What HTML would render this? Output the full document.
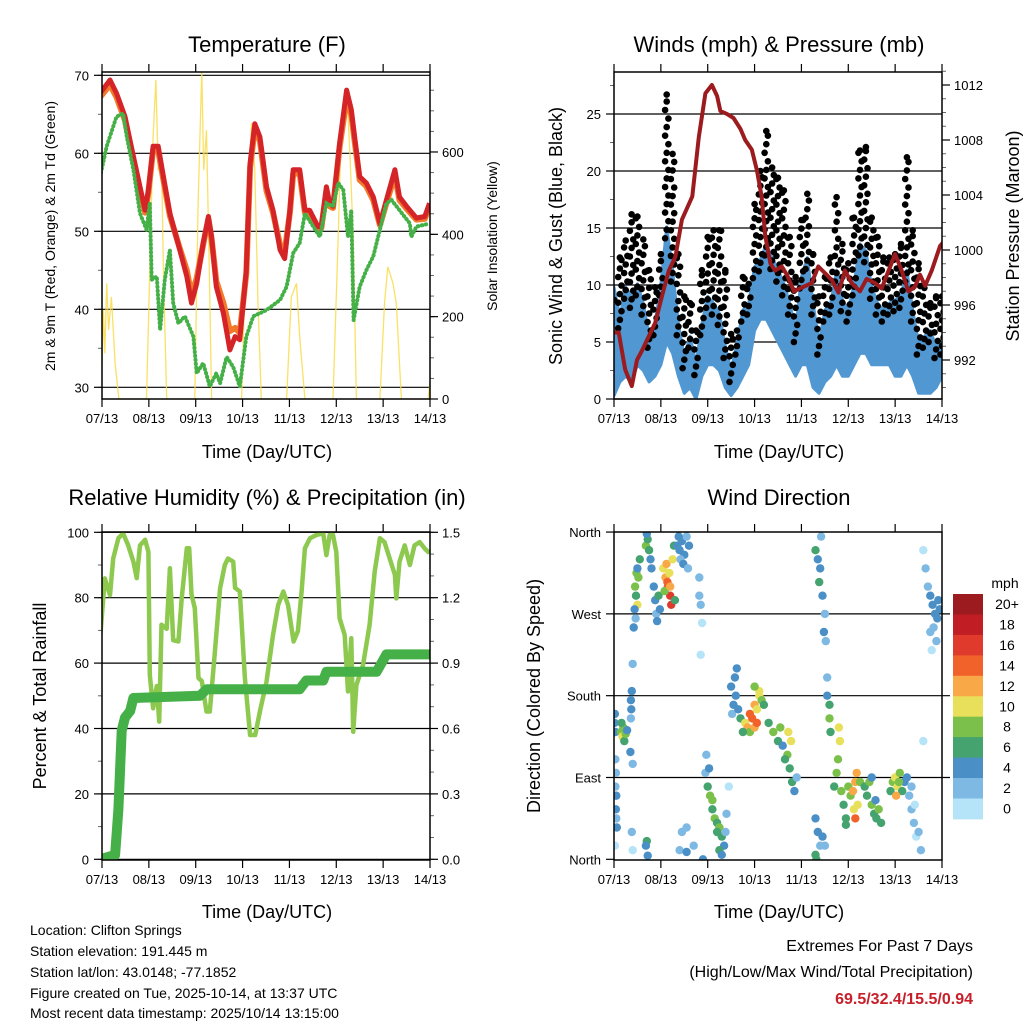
<!DOCTYPE html>
<html><head><meta charset="utf-8">
<style>
html,body{margin:0;padding:0;background:#fff;}
svg{display:block;font-family:"Liberation Sans",Arial,sans-serif;}
</style></head>
<body>
<svg id="s" width="1024" height="1024" viewBox="0 0 1024 1024" xmlns="http://www.w3.org/2000/svg">
<defs>
<clipPath id="c1"><rect x="102" y="72" width="328" height="327"/></clipPath>
<clipPath id="c2"><rect x="614" y="72" width="328" height="327"/></clipPath>
<clipPath id="c3"><rect x="102" y="532" width="328" height="328"/></clipPath>
<clipPath id="c4"><rect x="614" y="532" width="328" height="328"/></clipPath>
</defs>
<text x="267" y="52" font-size="22" text-anchor="middle">Temperature (F)</text>
<text x="779" y="52" font-size="22" text-anchor="middle">Winds (mph) &amp; Pressure (mb)</text>
<text x="267" y="505" font-size="22" text-anchor="middle">Relative Humidity (%) &amp; Precipitation (in)</text>
<text x="779" y="505" font-size="22" text-anchor="middle">Wind Direction</text>
<text x="267" y="458" font-size="18" text-anchor="middle">Time (Day/UTC)</text>
<text x="779" y="458" font-size="18" text-anchor="middle">Time (Day/UTC)</text>
<text x="267" y="918" font-size="18" text-anchor="middle">Time (Day/UTC)</text>
<text x="779" y="918" font-size="18" text-anchor="middle">Time (Day/UTC)</text>
<text transform="translate(55,236) rotate(-90)" font-size="14" text-anchor="middle">2m &amp; 9m T (Red, Orange) &amp; 2m Td (Green)</text>
<text transform="translate(497,236) rotate(-90)" font-size="14" text-anchor="middle">Solar Insolation (Yellow)</text>
<text transform="translate(562,236) rotate(-90)" font-size="18" text-anchor="middle">Sonic Wind &amp; Gust (Blue, Black)</text>
<text transform="translate(1019,236) rotate(-90)" font-size="18" text-anchor="middle">Station Pressure (Maroon)</text>
<text transform="translate(46,696) rotate(-90)" font-size="18" text-anchor="middle">Percent &amp; Total Rainfall</text>
<text transform="translate(540,696) rotate(-90)" font-size="18" text-anchor="middle">Direction (Colored By Speed)</text>
<g font-size="14">
<text x="30" y="935">Location: Clifton Springs</text>
<text x="30" y="956">Station elevation: 191.445 m</text>
<text x="30" y="977">Station lat/lon: 43.0148; -77.1852</text>
<text x="30" y="998">Figure created on Tue, 2025-10-14, at 13:37 UTC</text>
<text x="30" y="1018">Most recent data timestamp: 2025/10/14 13:15:00</text>
</g>
<g font-size="16" text-anchor="end">
<text x="973" y="951">Extremes For Past 7 Days</text>
<text x="973" y="977">(High/Low/Max Wind/Total Precipitation)</text>
<text x="973" y="1004" font-weight="bold" fill="#c8202a">69.5/32.4/15.5/0.94</text>
</g>
</svg>
<script>
// ---- data ----
const dayLabels=["07/13","08/13","09/13","10/13","11/13","12/13","13/13","14/13"];
const tempDays=[-0.04,0.17,0.31,0.49,0.67,0.81,0.92,0.99,1.09,1.2,1.31,1.45,1.66,1.81,1.91,2.02,2.16,2.27,2.34,2.44,2.59,2.73,2.84,2.94,3.08,3.16,3.26,3.37,3.51,3.65,3.8,3.9,4.01,4.08,4.22,4.33,4.43,4.61,4.68,4.79,4.86,4.93,5.07,5.22,5.32,5.39,5.5,5.64,5.79,5.93,6.07,6.25,6.35,6.5,6.71,6.89,6.99];
const tempRed=[67.7,69.4,67.7,64.7,59.6,55.7,52.7,55.3,60.9,60.9,57,52.3,47.6,44.2,40.8,43.3,48.5,51.9,49.3,42.9,39.5,34.8,36.5,36.1,45,58.7,63.8,62.1,55.7,52.7,47.6,46.5,52.7,57.9,57.9,52.7,52.7,50.6,50.6,55.7,53.6,53.2,61.3,68.1,65.6,62.1,57,56.2,54.4,51,54,57.9,54.4,53.2,51.7,51.9,53.6];
const tempOrange=[67.2,68.8,67.2,64.2,59.1,55.2,52.4,55.0,60.4,60.4,56.6,52.0,47.8,45.0,41.8,44.0,48.3,51.6,49.0,43.6,40.8,37.2,37.6,37.0,44.6,58.2,63.2,61.6,55.2,52.4,48.2,47.4,52.4,57.4,57.4,52.4,52.2,50.2,50.4,55.2,53.2,53.0,60.8,67.0,65.0,61.6,56.6,55.8,54.0,50.8,53.6,57.2,54.0,52.9,51.5,51.6,53.2];
const tdDays=[-0.04,0.1,0.31,0.45,0.53,0.67,0.81,0.95,1.02,1.06,1.17,1.24,1.34,1.45,1.52,1.63,1.77,1.95,2.02,2.16,2.3,2.44,2.52,2.66,2.8,2.94,3.08,3.23,3.51,3.8,3.94,4.08,4.22,4.33,4.51,4.65,4.79,4.93,5.04,5.15,5.25,5.32,5.37,5.5,5.64,5.79,5.93,6.07,6.18,6.35,6.57,6.6,6.71,6.99];
const tdVals=[57,60.9,64.7,65.1,62.1,57.9,52.3,50.2,53.6,43.8,44.2,37.4,43.8,47.6,40.8,38.2,39.1,36.5,31.8,33.1,30.1,31.8,30.5,33.9,32.6,30.1,36.5,39.1,39.9,41.2,42.9,47.2,48.5,52.3,50.6,49.3,53.6,53.2,56.2,55.3,49.3,52.7,38.6,42.9,45,46.8,50.2,53.6,54,52.7,51,49.3,50.6,51];
const solarDays=[0.0,0.03,0.06,0.1,0.14,0.2,0.28,0.36,0.95,1.02,1.09,1.15,1.2,1.27,1.31,1.38,1.98,2.05,2.13,2.17,2.23,2.29,2.34,2.98,3.08,3.19,3.26,3.33,3.4,3.94,4.04,4.15,4.22,4.33,4.93,5.04,5.11,5.22,5.29,5.36,5.43,5.93,6.03,6.1,6.21,6.28,6.39,6.96,7.03];
const solarVals=[80,216,111,281,168,248,87,0,0,313,637,775,556,596,313,0,0,476,799,556,653,313,0,0,394,670,556,232,0,0,248,281,151,0,0,394,678,750,597,394,0,0,232,321,281,232,0,0,70];
const windHi=[9.8,7.2,9.8,9,10.1,8.4,5.5,6.6,10.1,15.1,11.3,6.6,3.7,5.5,3.1,6.6,9,8.4,7.5,4.6,2.5,4.9,7.8,8.4,11.6,12.2,13.6,12.4,11.3,10.1,8.4,6,10.7,12.4,8.4,4.9,7.8,8.4,11.3,8.7,7.8,10.1,13.6,13,9.8,8.4,7.8,8.4,8.7,9,11.3,7.8,4.9,5.5,6,4.6,4.9];
const windLo=[0.3,1.5,2,1.5,3,2.5,1.5,2,3,5,4,2,0.5,1,0,2,3,3,2.5,1,0.3,1,2,3,6,7,7,6,5,4,3,2,3,3,1,0.5,1.5,2,3,2,2,3,4,4,3,3,3,3,2,2,3,2,0.5,0.5,0.5,1,2];
const gustHi=[8.7,12.4,13.9,16.2,16,14,11.3,9.8,12.7,26.7,21.5,12.7,9,8.4,6,11.3,14.2,14.8,14.8,11.3,5.7,6,10.7,10.1,17.1,20,23.5,20.3,19.4,18.3,14.2,10.7,15.7,18,12.7,9,10.7,12.4,17.7,13.6,11.9,15.9,21.8,22.1,15.9,14.2,12.4,12.4,12.7,13.6,21.2,14.8,11.9,10.1,8.4,9,9];
const presDays=[-0.04,0.1,0.24,0.38,0.49,0.6,0.88,1.02,1.17,1.31,1.45,1.67,1.81,1.95,2.09,2.2,2.27,2.41,2.55,2.7,2.8,2.94,3.05,3.15,3.23,3.34,3.44,3.58,3.69,3.84,4.22,4.36,4.51,4.65,4.79,4.93,5.07,5.25,5.39,5.57,5.71,5.86,6.0,6.14,6.28,6.42,6.53,6.64,6.78,6.96,7.06];
const presVals=[994,994,991.3,990.1,992,992.7,994.7,996.6,998.5,999.5,1002.2,1003.9,1008.2,1011.4,1012,1011.2,1010.1,1009.9,1009.6,1008.8,1008,1007.3,1005.8,1003.9,1001,999,998.5,998.8,998.2,997,997.6,998.8,998.3,997.8,996.9,998.5,997.6,997,997.9,997.6,997.2,998.5,999.7,998.5,997,997.3,998.2,997.4,998.5,1000.3,1000.7];
const rhDays=[-0.04,0.06,0.17,0.24,0.35,0.45,0.56,0.67,0.74,0.81,0.92,0.99,1.02,1.09,1.17,1.22,1.27,1.38,1.45,1.52,1.63,1.7,1.81,1.86,1.91,1.98,2.06,2.13,2.23,2.3,2.41,2.52,2.62,2.69,2.8,2.84,2.94,3.05,3.16,3.27,3.37,3.51,3.65,3.76,3.87,3.97,4.09,4.18,4.26,4.33,4.44,4.58,4.72,4.79,4.86,4.93,5.0,5.07,5.18,5.25,5.32,5.36,5.43,5.57,5.71,5.82,5.93,6.03,6.14,6.25,6.28,6.35,6.46,6.57,6.67,6.78,6.89,6.99];
const rhVals=[67.6,85.9,80.8,92,98.2,99.7,96,91,86,96,97.7,94,56.4,46.2,53,42.1,71.7,70.5,89,67,66.6,79.8,95.1,95.1,81,76.8,55.4,54.5,45.2,45.2,63.5,82.9,90,92,91,83,81.9,55.4,38,38,45.2,54.3,68.6,77.8,81.9,77.8,66.6,69.8,81.9,95.1,98.2,99.2,99.7,93,99.2,99.2,94,73.7,68.6,51.3,67.6,39,53.3,59.4,71.7,88,98.2,97,92,87,79.8,91,96,90,96,97,95,93.6];
const precipDays=[-0.04,0.28,0.35,0.42,0.49,0.6,0.67,2.09,2.23,4.22,4.36,4.72,4.79,5.86,6.07,7.06];
const precipVals=[0,0.02,0.23,0.59,0.65,0.68,0.74,0.75,0.78,0.78,0.82,0.82,0.86,0.86,0.94,0.94];
const dirDays=[0.02,0.01,0.03,0.03,0.04,0.03,0.05,0.04,0.05,0.06,0.02,0.15,0.18,0.2,0.22,0.25,0.28,0.16,0.36,0.38,0.37,0.36,0.4,0.4,0.35,0.45,0.47,0.48,0.5,0.44,0.46,0.52,0.55,0.5,0.42,0.68,0.72,0.75,0.78,0.7,0.8,0.85,0.88,0.9,0.95,0.98,0.92,1.05,1.1,1.15,1.2,1.22,1.12,1.18,1.25,1.08,1.28,1.3,1.14,1.2,1.35,1.4,1.45,1.5,1.55,1.42,1.6,1.48,1.38,1.58,1.82,1.85,1.88,1.85,1.82,1.95,2.0,2.05,2.1,2.15,2.2,2.25,2.3,2.1,2.2,2.35,2.4,2.45,2.38,2.03,1.97,2.25,2.3,1.4,1.45,1.55,1.55,0.7,0.68,0.72,1.7,0.4,0.38,1.9,2.5,2.55,2.6,2.58,2.52,2.65,2.62,2.7,2.8,2.85,2.9,2.95,3.0,3.05,2.9,3.0,3.1,3.15,3.1,3.2,2.75,3.0,3.05,3.3,3.4,3.5,3.55,3.6,3.7,3.75,3.8,3.72,3.78,3.65,3.85,3.9,4.3,4.35,4.4,4.38,4.45,4.5,4.48,4.52,4.55,4.55,4.6,4.6,4.42,4.35,4.4,4.3,4.32,4.45,4.5,4.3,4.62,4.8,4.82,4.78,4.75,4.7,4.85,4.9,4.95,5.0,5.05,5.1,5.15,5.18,5.12,5.15,5.2,5.25,4.95,5.35,5.4,5.45,5.5,5.55,5.6,5.65,5.7,5.5,5.58,5.9,5.95,6.0,6.05,6.1,6.15,6.2,6.25,6.02,6.08,6.3,6.35,6.4,6.45,6.35,6.5,6.55,6.42,6.6,6.6,6.65,6.7,6.75,6.8,6.85,6.9,6.95,6.82,6.88,6.78,6.75,6.92];
const dirDegs=[160,150,140,110,95,80,70,55,45,35,15,140,135,145,130,138,142,150,175,185,165,155,215,105,118,300,290,315,280,275,265,310,330,320,255,345,352,340,330,358,320,300,285,270,290,275,262,320,310,300,290,280,325,315,330,295,345,285,305,300,345,340,350,335,355,330,345,325,355,320,310,280,260,225,290,95,80,70,55,45,40,35,25,65,30,15,50,80,30,100,115,10,5,10,30,35,8,20,15,4,15,10,30,0,190,170,180,200,160,165,210,155,150,145,160,155,170,165,140,145,180,175,185,170,140,190,150,150,140,130,145,125,115,100,85,140,130,110,75,90,340,330,320,305,290,270,250,240,200,180,170,155,355,30,15,5,0,25,15,45,140,145,130,110,95,80,75,60,45,80,70,75,85,95,55,45,60,85,38,80,70,85,60,50,45,55,40,90,65,75,85,90,80,95,75,85,90,70,85,70,55,40,25,80,30,10,60,130,340,320,300,290,280,270,265,275,255,240,230,250,285];
const dirSpeeds=[4,4,4,2,2,2,4,4,2,4,0,8,10,8,6,8,4,6,4,4,4,2,2,2,4,8,6,8,10,4,2,8,6,4,4,8,6,6,4,4,4,4,4,2,6,4,4,10,12,14,16,16,12,10,10,8,6,6,14,12,4,4,4,4,2,2,4,4,4,2,2,2,0,0,2,2,6,8,6,8,6,8,6,8,6,4,2,0,2,4,2,6,4,2,2,2,4,6,4,4,2,0,2,4,4,4,4,4,2,4,4,6,10,12,14,14,12,10,8,12,10,8,10,6,6,8,14,6,8,6,8,4,8,6,6,10,10,6,4,2,6,4,4,6,4,2,4,2,2,4,6,8,2,4,2,6,6,4,2,4,6,10,10,8,8,6,8,6,6,8,8,12,12,12,10,14,10,8,6,6,6,8,8,6,6,8,6,4,4,6,8,10,10,8,6,4,4,12,8,2,2,2,0,2,2,2,0,0,0,2,2,4,4,4,4,4,2,2,0,2,4];
const speedLabels=["0","2","4","6","8","10","12","14","16","18","20+"];
const speedColors=["#b5e3f7","#7eb9e4","#4a90c6","#44a36e","#7ac04a","#e8e05a","#f9a848","#f0622a","#e03a2c","#c01d25","#9b1b1f"];

// ---- helpers ----
const NS="http://www.w3.org/2000/svg";
const svg=document.getElementById('s');
function mk(tag,attrs,parent){const e=document.createElementNS(NS,tag);for(const k in attrs)e.setAttribute(k,attrs[k]);(parent||svg).appendChild(e);return e;}
function grp(name,clip){const g=mk('g',clip?{'clip-path':'url(#'+clip+')'}:{});


return g;}
function pathFrom(xs,ys,fx,fy){let d='';for(let i=0;i<xs.length;i++)d+=(i?'L':'M')+fx(xs[i]).toFixed(1)+','+fy(ys[i]).toFixed(1);return d;}

function frame(x0,y0,x1,y1,name){
  const g=grp(name);
  mk('rect',{x:x0,y:y0,width:x1-x0,height:y1-y0,fill:'none',stroke:'#000','stroke-width':1.5},g);
  return g;
}
function xAxis(x0,x1,y0,y1,name){
  const g=grp(name);
  const fx=d=>x0+d*(x1-x0)/7;
  for(let i=0;i<dayLabels.length;i++){
    mk('line',{x1:fx(i),x2:fx(i),y1:y1,y2:y1+8,stroke:'#000','stroke-width':1.2},g);
    mk('line',{x1:fx(i),x2:fx(i),y1:y0,y2:y0-8,stroke:'#000','stroke-width':1.2},g);
    const t=mk('text',{x:fx(i),y:y1+24,'font-size':13,'text-anchor':'middle'},g);
    t.textContent=dayLabels[i];
    
    
  }
  return fx;
}
function yTicks(xEdge,side,vals,labels,fy,minor,g,grid,gx0,gx1){
  const dir=side==='left'?-1:1;
  for(const m of minor){mk('line',{x1:xEdge,x2:xEdge+dir*4,y1:fy(m),y2:fy(m),stroke:'#666','stroke-width':1},g);}
  vals.forEach((v,i)=>{
    const y=fy(v);
    mk('line',{x1:xEdge,x2:xEdge+dir*8,y1:y,y2:y,stroke:'#000','stroke-width':1.2},g);
    if(grid) mk('line',{x1:gx0,x2:gx1,y1:y,y2:y,stroke:'#000','stroke-width':1.2},g);
    const t=mk('text',{x:xEdge+dir*(side==='left'?13:12),y:y+5,'font-size':13,'text-anchor':side==='left'?'end':'start'},g);
    t.textContent=labels[i];
    
    
  });
}
function range(a,b,s){const r=[];for(let v=a;v<=b+1e-9;v+=s)r.push(+v.toFixed(3));return r;}

// ===== Panel 1: temperature =====
(function(){
  const X0=102,X1=430,Y0=72,Y1=399;
  const fx=xAxis(X0,X1,Y0,Y1,'temp-x-axis');
  const fy=v=>387.3-(v-30)*7.8;
  const fs=v=>399-v*0.4117;
  const ga=grp('temp-y-axes');
  yTicks(X0,'left',[30,40,50,60,70],['30','40','50','60','70'],fy,range(30,70,5),ga,true,X0,X1);
  yTicks(X1,'right',[0,200,400,600],['0','200','400','600'],fs,range(0,750,50),ga,false);
  const gs=grp('solar-series','c1');
  const ps=mk('path',{d:pathFrom(solarDays,solarVals,fx,fs),fill:'none',stroke:'#f8dc4a','stroke-width':1.3,'stroke-opacity':0.85},gs);
  
  
  const gt=grp('temperature-series','c1');
  const po=mk('path',{d:pathFrom(tempDays,tempOrange,fx,fy),fill:'none',stroke:'#f2782a','stroke-width':6,'stroke-linejoin':'round'},gt);
  
  
  const pr=mk('path',{d:pathFrom(tempDays,tempRed,fx,fy),fill:'none',stroke:'#d42428','stroke-width':5,'stroke-linejoin':'round'},gt);
  
  
  const pg=mk('path',{d:pathFrom(tdDays,tdVals,fx,fy),fill:'none',stroke:'#46b048','stroke-width':4,'stroke-dasharray':'0.5 3.5','stroke-linecap':'round'},gt);
  
  
  frame(X0,Y0,X1,Y1,'temp-plot-frame');
})();

// ===== Panel 2: winds & pressure =====
(function(){
  const X0=614,X1=942,Y0=72,Y1=399;
  const fx=xAxis(X0,X1,Y0,Y1,'wind-x-axis');
  const fy=v=>399-v*11.4;
  const fp=p=>85+(1012-p)*13.75;
  const ga=grp('wind-y-axes');
  yTicks(X0,'left',[0,5,10,15,20,25],['0','5','10','15','20','25'],fy,range(0,27.5,2.5),ga,true,X0,X1);
  yTicks(X1,'right',[992,996,1000,1004,1008,1012],['992','996','1000','1004','1008','1012'],fp,range(990,1013,1),ga,false);
  const g=grp('wind-series','c2');
  let up='',dn='';
  for(let i=0;i<windHi.length;i++){const x=fx(i*0.125);up+=(i?'L':'M')+x.toFixed(1)+','+fy(windHi[i]).toFixed(1);}
  for(let i=windLo.length-1;i>=0;i--){const x=fx(i*0.125);dn+='L'+x.toFixed(1)+','+fy(windLo[i]).toFixed(1);}
  const band=mk('path',{d:up+dn+'Z',fill:'#5198d2',stroke:'#5198d2','stroke-width':3,'stroke-linejoin':'round'},g);
  
  
  const gd=grp('gust-dots','c2');
  const offs=[-0.035,0,0.035];
  for(let i=0;i<gustHi.length;i++){
    let k=0;
    for(let v=windHi[i]-1;v<=gustHi[i];v+=0.75){
      const c=mk('circle',{cx:fx(i*0.125+offs[k%3]).toFixed(1),cy:fy(v).toFixed(1),r:3.3,fill:'#000'},gd);
      
      
      k++;
    }
    const c=mk('circle',{cx:fx(i*0.125).toFixed(1),cy:fy(gustHi[i]).toFixed(1),r:3.3,fill:'#000'},gd);
    
    
  }
  const gp=grp('pressure-series','c2');
  const pp=mk('path',{d:pathFrom(presDays,presVals,fx,fp),fill:'none',stroke:'#9b1b1f','stroke-width':4,'stroke-linejoin':'round'},gp);
  
  
  frame(X0,Y0,X1,Y1,'wind-plot-frame');
})();

// ===== Panel 3: RH & precip =====
(function(){
  const X0=102,X1=430,Y0=532,Y1=860;
  const fx=xAxis(X0,X1,Y0,Y1,'rh-x-axis');
  const fy=v=>859.3-v*3.27;
  const fq=v=>859.3-v/0.015*3.27;
  const ga=grp('rh-y-axes');
  yTicks(X0,'left',[0,20,40,60,80,100],['0','20','40','60','80','100'],fy,range(0,100,10),ga,true,X0,X1);
  yTicks(X1,'right',[0,0.3,0.6,0.9,1.2,1.5],['0.0','0.3','0.6','0.9','1.2','1.5'],fq,range(0,1.5,0.1),ga,false);
  const g=grp('rh-series','c3');
  const pr=mk('path',{d:pathFrom(rhDays,rhVals,fx,fy),fill:'none',stroke:'#8dc94e','stroke-width':4.5,'stroke-linejoin':'round'},g);
  
  
  const pq=mk('path',{d:pathFrom(precipDays,precipVals,fx,fq),fill:'none',stroke:'#46b048','stroke-width':10,'stroke-linejoin':'round','stroke-linecap':'round'},g);
  
  
  frame(X0,Y0,X1,Y1,'rh-plot-frame');
})();

// ===== Panel 4: wind direction =====
(function(){
  const X0=614,X1=942,Y0=532,Y1=860;
  const fx=xAxis(X0,X1,Y0,Y1,'dir-x-axis');
  const fy=d=>859.3-d*0.909;
  const ga=grp('dir-y-axes');
  yTicks(X0,'left',[0,90,180,270,360],['North','East','South','West','North'],fy,[],ga,false);
  for(const d of [90,180,270]) mk('line',{x1:X0,x2:X1+8,y1:fy(d),y2:fy(d),stroke:'#000','stroke-width':1.2},ga);
  const g=grp('direction-points','c4');
  for(let i=0;i<dirDays.length;i++){
    const ci=Math.min(10,Math.floor(dirSpeeds[i]/2));
    const c=mk('circle',{cx:fx(dirDays[i]).toFixed(1),cy:fy(dirDegs[i]).toFixed(1),r:4.2,fill:speedColors[ci]},g);
    
    
  }
  frame(X0,Y0,X1,Y1,'dir-plot-frame');
  // colorbar
  const gc=grp('speed-colorbar');
  const t=mk('text',{x:1005,y:588,'font-size':14,'text-anchor':'middle'},gc);
  t.textContent='mph';
  
  
  for(let i=0;i<speedColors.length;i++){
    const k=speedColors.length-1-i;
    const y=594+i*20.45;
    const r=mk('rect',{x:953,y:y.toFixed(1),width:30,height:20.9,fill:speedColors[k]},gc);
    
    
    const l=mk('text',{x:1007,y:(y+15).toFixed(1),'font-size':14,'text-anchor':'middle'},gc);
    l.textContent=speedLabels[k];
    
    
  }
})();
</script>
</body></html>
